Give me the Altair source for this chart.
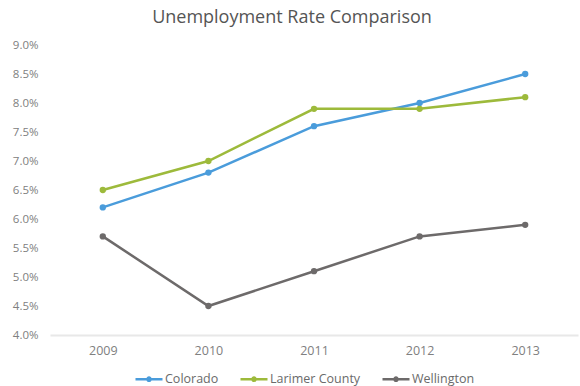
import altair as alt
import pandas as pd

years = ["2009", "2010", "2011", "2012", "2013"]
colorado = [6.2, 6.8, 7.6, 8.0, 8.5]
larimer = [6.5, 7.0, 7.9, 7.9, 8.1]
wellington = [5.7, 4.5, 5.1, 5.7, 5.9]
series = ["Colorado", "Larimer County", "Wellington"]
colors = ["#4a9cdb", "#9dba3b", "#6d6a6a"]

rows = []
for name, vals in zip(series, [colorado, larimer, wellington]):
    for y, v in zip(years, vals):
        rows.append({"year": y, "rate": v / 100, "series": name})
df = pd.DataFrame(rows)

font = "Open Sans"
legend_symbol = "M-1,0L1,0M0.12,0A0.12,0.12,0,1,1,-0.12,0A0.12,0.12,0,1,1,0.12,0"

chart = alt.Chart(df).mark_line(
    point=alt.OverlayMarkDef(filled=True, size=40), strokeWidth=2.5
).encode(
    x=alt.X("year:O", scale=alt.Scale(type="point", padding=0.5),
            axis=alt.Axis(title=None, labelAngle=0, domain=True, domainColor="#e8e8e8",
                          domainWidth=2, ticks=False, labelPadding=9, grid=False,
                          labelFontSize=12.5)),
    y=alt.Y("rate:Q", scale=alt.Scale(domain=[0.04, 0.09], nice=False, zero=False),
            axis=alt.Axis(title=None, format=".1%", values=[0.04 + 0.005 * i for i in range(11)],
                          domain=False, ticks=False, grid=False, labelPadding=12)),
    color=alt.Color("series:N", scale=alt.Scale(domain=series, range=colors),
                    legend=alt.Legend(title=None, orient="none", direction="horizontal",
                                      legendX=84, legendY=319,
                                      symbolType=legend_symbol, symbolStrokeWidth=2.5,
                                      symbolSize=729, labelFontSize=12.5, labelColor="#6a6a6a",
                                      columnPadding=16, labelOffset=1)),
).properties(
    width=528, height=290,
    title=alt.Title("Unemployment Rate Comparison", fontSize=18, font=font,
                    fontWeight="normal", color="#555555", offset=12, dx=-22),
    padding={"left": 50, "top": 45, "right": 2, "bottom": 51},
    autosize=alt.AutoSizeParams(type="none"),
).configure_axis(
    labelFont=font, labelFontSize=11.5, labelColor="#808080"
).configure_legend(labelFont=font).configure_view(stroke=None)

chart.save("out.html", embed_options={"renderer": "svg", "actions": False})
